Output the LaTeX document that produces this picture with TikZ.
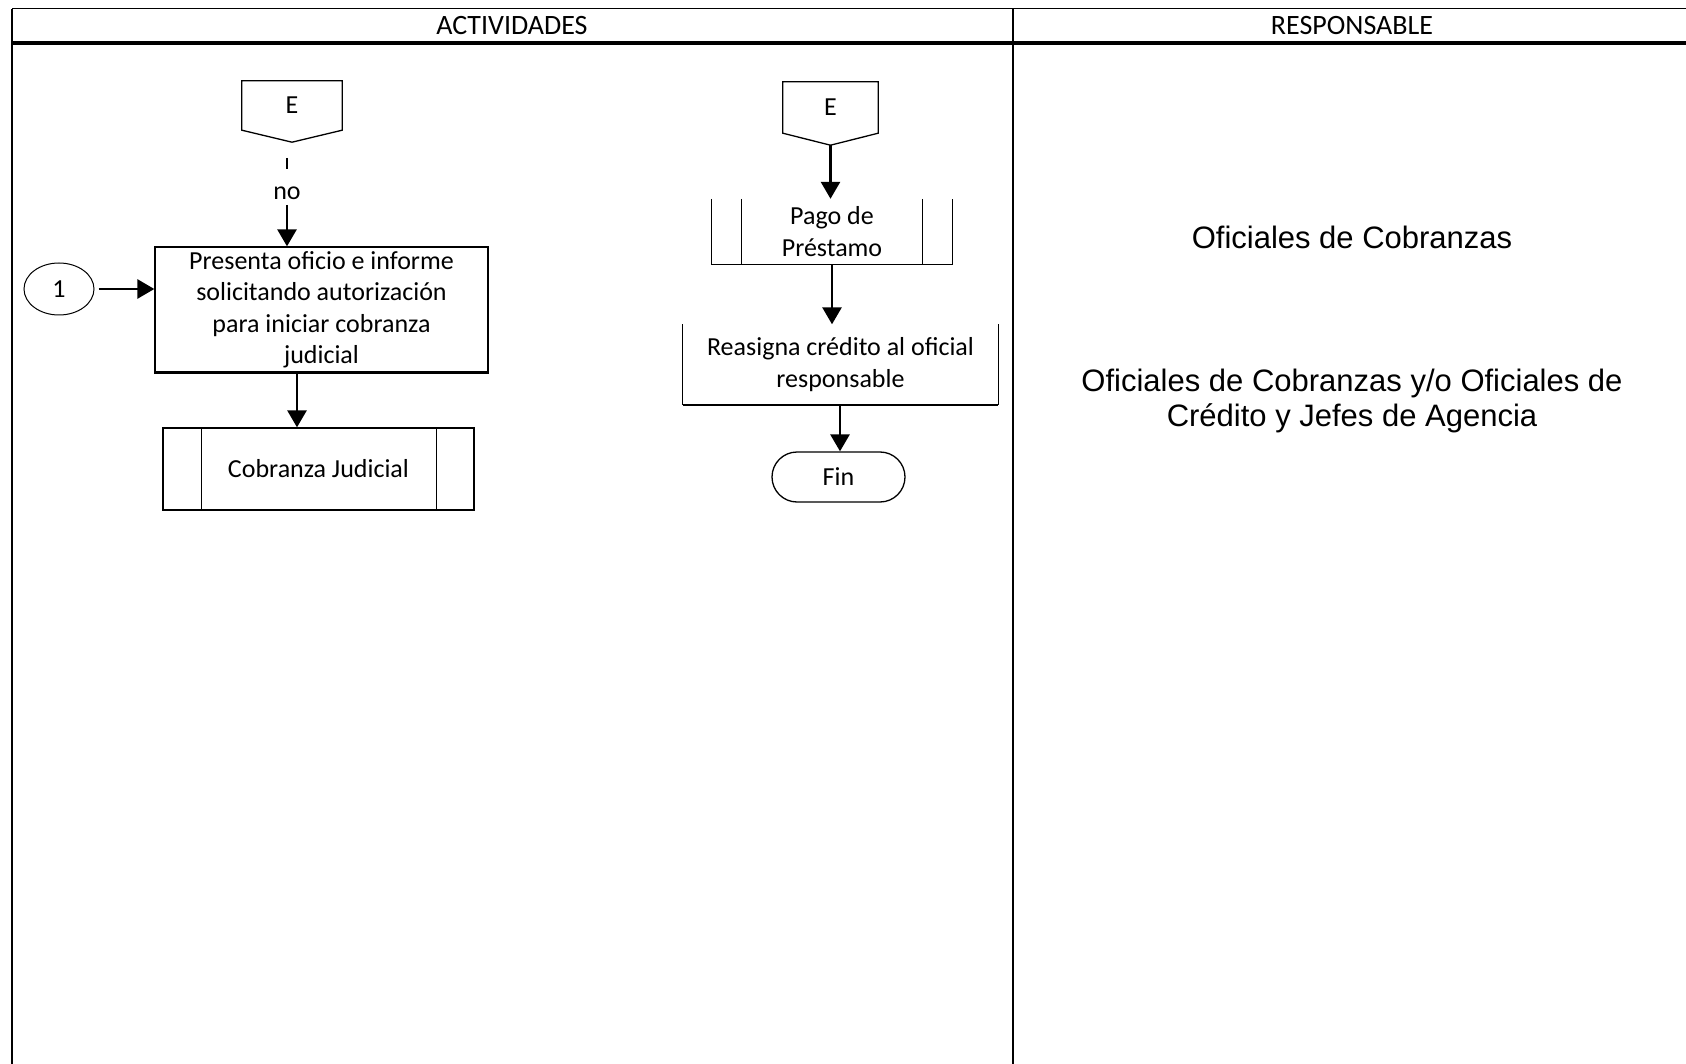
\documentclass[tikz,border=0pt]{standalone}
\usepackage{fontspec}
\setmainfont{Carlito}
\newfontfamily\respfont{Liberation Sans}
\usetikzlibrary{arrows.meta,calc,shapes.geometric}
\begin{document}
\begin{tikzpicture}[x=1pt,y=-1pt,
  frame/.style={line width=1.6pt},
  headrule/.style={line width=3.4pt},
  boxline/.style={line width=1.3pt},
  bottomline/.style={line width=2.4pt},
  flow/.style={line width=2.8pt,-{Triangle[width=19pt,length=17pt]}},
  plain/.style={line width=2.8pt},
  txt/.style={font=\fontsize{26}{31.5}\selectfont, align=center, inner sep=0pt},
  hdr/.style={font=\fontsize{28}{32}\selectfont, inner sep=0pt},
  resp/.style={font=\respfont\fontsize{31}{35}\selectfont, align=center, inner sep=0pt},
]
\useasboundingbox (0,0) rectangle (1686,1064);

% table frame
\draw[frame] (12,8.6) -- (1686,8.6);
\draw[headrule] (12,43) -- (1686,43);
\draw[line width=2pt] (12,8.6) -- (12,1064);
\draw[frame] (1013,8.6) -- (1013,1064);
\node[hdr] (hact) at (512,26) {ACTIVIDADES};
\node[hdr] (hresp) at (1352,26) {RESPONSABLE};

% ---- left branch ----
\node[txt, minimum width=100pt, minimum height=49pt] (e1) at (292,105.5) {E};
\coordinate (e1tip) at ($(e1.south)+(0,12)$);
\draw[boxline] (e1.south west) -- (e1.north west) -- (e1.north east) -- (e1.south east) -- (e1tip) -- cycle;

\coordinate (n1) at (287,158);
\coordinate (n2) at (287,169);
\coordinate (n3) at (287,205);
\node[txt] (nolbl) at (287,193) {no};
\draw[plain] (n1) -- (n2);

\node[txt, draw, boxline, minimum width=333pt, minimum height=125pt] (pres) at (321.5,309.5)
  {Presenta oficio e informe\\solicitando autorización\\para iniciar cobranza\\judicial};
\draw[bottomline] (pres.south west) -- (pres.south east);
\draw[flow] (n3) -- (pres.north -| n3);

\node[txt, draw, line width=1pt, minimum width=70pt, minimum height=52pt, ellipse] (c1) at (59,289) {1};
\draw[flow, shorten <=4pt] (c1.east) -- (pres.west |- c1.east);

\node[txt, draw, boxline, minimum width=311pt, minimum height=82pt] (cj) at (318.5,469) {Cobranza Judicial};
\draw[boxline] ($(cj.north west)+(39,0)$) -- ($(cj.south west)+(39,0)$);
\draw[boxline] ($(cj.north east)+(-38,0)$) -- ($(cj.south east)+(-38,0)$);
\coordinate (ax1) at (297,400);
\draw[flow] (pres.south -| ax1) -- (cj.north -| ax1);

% ---- right branch ----
\node[txt, minimum width=95pt, minimum height=51pt] (e2) at (830.5,107.5) {E};
\coordinate (e2tip) at ($(e2.south)+(0,12)$);
\draw[boxline] (e2.south west) -- (e2.north west) -- (e2.north east) -- (e2.south east) -- (e2tip) -- cycle;

\node[txt, minimum width=240pt, minimum height=65pt] (pg) at (832,231.5) {Pago de\\Préstamo};
\draw[boxline] (pg.north west) -- (pg.south west) -- (pg.south east) -- (pg.north east);
\draw[boxline] ($(pg.north west)+(30,0)$) -- ($(pg.south west)+(30,0)$);
\draw[boxline] ($(pg.north east)+(-30,0)$) -- ($(pg.south east)+(-30,0)$);
\draw[flow] (e2tip) -- (e2tip |- pg.north);

\node[txt, minimum width=315pt, minimum height=80pt] (ra) at (840.5,364.5) {Reasigna crédito al oficial\\responsable};
\draw[boxline] (ra.north west) -- (ra.south west);
\draw[boxline] (ra.north east) -- (ra.south east);
\draw[bottomline] (ra.south west) -- (ra.south east);
\coordinate (ax2) at (832,300);
\draw[flow] (pg.south -| ax2) -- (ra.north -| ax2);

\node[txt, draw, boxline, minimum width=133pt, minimum height=50pt, rounded corners=25pt] (fin) at (838.5,477) {Fin};
\coordinate (ax3) at (840,430);
\draw[flow] (ra.south -| ax3) -- (fin.north -| ax3);

% ---- responsible column ----
\node[resp] (r1) at (1352,237) {Oficiales de Cobranzas};
\node[resp] (r2) at (1352,400.5) {Oficiales de Cobranzas y/o Oficiales de\\Crédito y Jefes de Agencia};
\end{tikzpicture}
\end{document}
